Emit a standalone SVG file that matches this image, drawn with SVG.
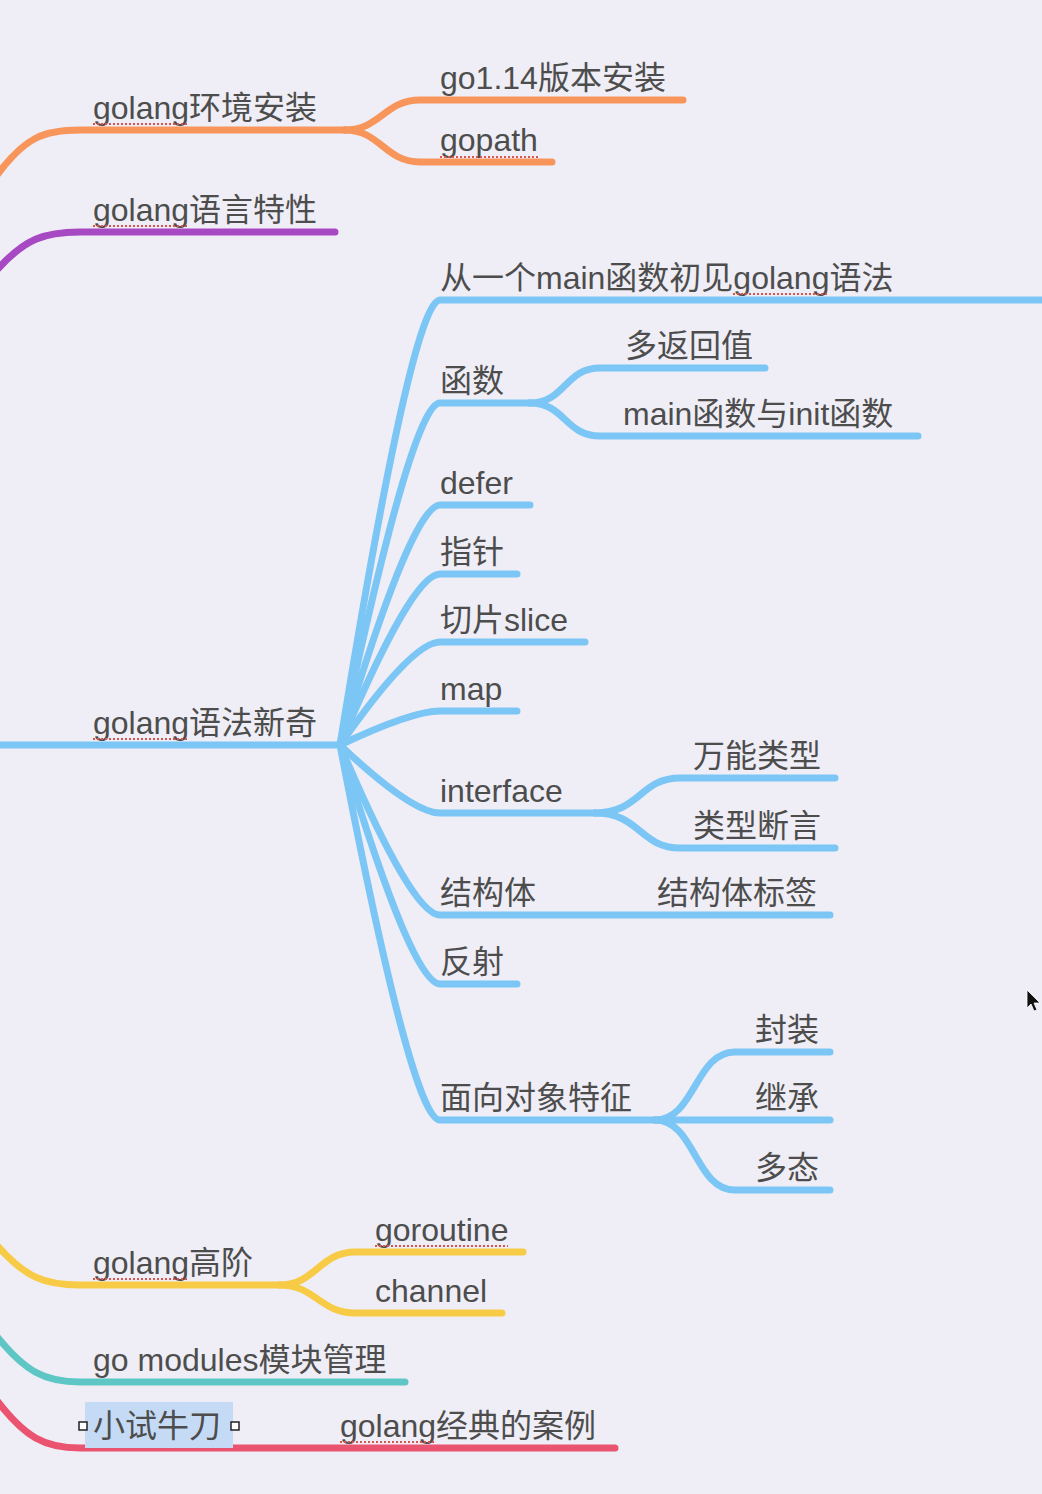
<svg xmlns="http://www.w3.org/2000/svg" width="1042" height="1494" viewBox="0 0 1042 1494">
<style>
.bg{fill:#efeef6}
.c{fill:none;stroke-width:7;stroke-linecap:round;stroke-linejoin:round}
.o{stroke:#f7955a}.p{stroke:#a849c4}.b{stroke:#7cc6f5}.y{stroke:#f8cb46}.t{stroke:#5ec7c6}.r{stroke:#ea5470}
text{font-family:"Liberation Sans","Noto Sans CJK SC",sans-serif;font-size:32px;fill:#4d4d4d}
.sq{fill:none;stroke:#d9534f;stroke-width:2;stroke-dasharray:2 2}
</style>
<rect class="bg" x="0" y="0" width="1042" height="1494"/>
<g id="connectors">
<path class="c o" d="M-5,178 C25,136 45,130 80,130 L345,130"/>
<path class="c o" d="M345,130 C380,130 385,100 420,100 L683,100"/>
<path class="c o" d="M345,130 C380,130 385,162 420,162 L552,162"/>
<path class="c p" d="M-5,272 C25,238 45,232 80,232 L335,232"/>
<path class="c b" d="M0,745 L340,745"/>
<path class="c b" d="M340,745 Q412,300 440,300 L1050,300"/>
<path class="c b" d="M340,745 Q412,403 440,403 L530,403"/>
<path class="c b" d="M530,403 C565,403 565,368 600,368 L765,368"/>
<path class="c b" d="M530,403 C565,403 565,436 600,436 L918,436"/>
<path class="c b" d="M340,745 Q412,505 440,505 L530,505"/>
<path class="c b" d="M340,745 Q412,574 440,574 L517,574"/>
<path class="c b" d="M340,745 Q412,642 440,642 L585,642"/>
<path class="c b" d="M340,745 Q412,711 440,711 L517,711"/>
<path class="c b" d="M340,745 Q412,813 440,813 L595,813"/>
<path class="c b" d="M595,813 C640,813 640,778 680,778 L835,778"/>
<path class="c b" d="M595,813 C640,813 640,848 680,848 L835,848"/>
<path class="c b" d="M340,745 Q412,915 440,915 L830,915"/>
<path class="c b" d="M340,745 Q412,984 440,984 L517,984"/>
<path class="c b" d="M340,745 Q412,1120 440,1120 L655,1120"/>
<path class="c b" d="M655,1120 C695,1120 695,1052 735,1052 L830,1052"/>
<path class="c b" d="M655,1120 L830,1120"/>
<path class="c b" d="M655,1120 C695,1120 695,1190 735,1190 L830,1190"/>
<path class="c y" d="M-5,1243 C25,1278 45,1285 80,1285 L280,1285"/>
<path class="c y" d="M280,1285 C315,1285 320,1252 355,1252 L523,1252"/>
<path class="c y" d="M280,1285 C315,1285 320,1313 355,1313 L502,1313"/>
<path class="c t" d="M-5,1334 C25,1372 45,1382 80,1382 L405,1382"/>
<path class="c r" d="M-5,1398 C25,1438 45,1448 80,1448 L615,1448"/>
</g>
<g id="n-env"><text x="93" y="119">golang环境安装</text><line class="sq" x1="93" y1="124" x2="189" y2="124"/></g>
<g id="n-go114"><text x="440" y="89">go1.14版本安装</text></g>
<g id="n-gopath"><text x="440" y="151">gopath</text><line class="sq" x1="440" y1="157" x2="538" y2="157"/></g>
<g id="n-feature"><text x="93" y="221">golang语言特性</text><line class="sq" x1="93" y1="226" x2="189" y2="226"/></g>
<g id="n-syntax"><text x="93" y="734">golang语法新奇</text><line class="sq" x1="93" y1="739" x2="189" y2="739"/></g>
<g id="n-main"><text x="440" y="289">从一个main函数初见golang语法</text><line class="sq" x1="733" y1="294" x2="829" y2="294"/></g>
<g id="n-func"><text x="440" y="392">函数</text></g>
<g id="n-multi"><text x="625" y="357">多返回值</text></g>
<g id="n-maininit"><text x="623" y="425">main函数与init函数</text></g>
<g id="n-defer"><text x="440" y="494">defer</text></g>
<g id="n-ptr"><text x="440" y="563">指针</text></g>
<g id="n-slice"><text x="440" y="631">切片slice</text></g>
<g id="n-map"><text x="440" y="700">map</text></g>
<g id="n-iface"><text x="440" y="802">interface</text></g>
<g id="n-any"><text x="693" y="767">万能类型</text></g>
<g id="n-assert"><text x="693" y="837">类型断言</text></g>
<g id="n-struct"><text x="440" y="904">结构体</text></g>
<g id="n-tag"><text x="657" y="904">结构体标签</text></g>
<g id="n-reflect"><text x="440" y="973">反射</text></g>
<g id="n-oop"><text x="440" y="1109">面向对象特征</text></g>
<g id="n-encap"><text x="755" y="1041">封装</text></g>
<g id="n-inherit"><text x="755" y="1109">继承</text></g>
<g id="n-poly"><text x="755" y="1179">多态</text></g>
<g id="n-adv"><text x="93" y="1274">golang高阶</text><line class="sq" x1="93" y1="1279" x2="189" y2="1279"/></g>
<g id="n-goroutine"><text x="375" y="1241">goroutine</text><line class="sq" x1="375" y1="1246" x2="508" y2="1246"/></g>
<g id="n-channel"><text x="375" y="1302">channel</text></g>
<g id="n-modules"><text x="93" y="1371">go modules模块管理</text></g>
<g id="n-try">
<rect x="85" y="1402" width="148" height="46" fill="#c5dbf5"/>
<rect x="79" y="1422" width="8" height="8" fill="#ffffff" stroke="#222" stroke-width="1.5"/>
<rect x="231" y="1422" width="8" height="8" fill="#ffffff" stroke="#222" stroke-width="1.5"/>
<text x="93" y="1437">小试牛刀</text>
</g>
<g id="n-case"><text x="340" y="1437">golang经典的案例</text><line class="sq" x1="340" y1="1442" x2="436" y2="1442"/></g>
<path d="M1027,990 L1027,1008 L1031,1004 L1034,1011 L1037,1010 L1034,1003 L1040,1003 Z" fill="#111" stroke="#fff" stroke-width="0.8"/>
</svg>
